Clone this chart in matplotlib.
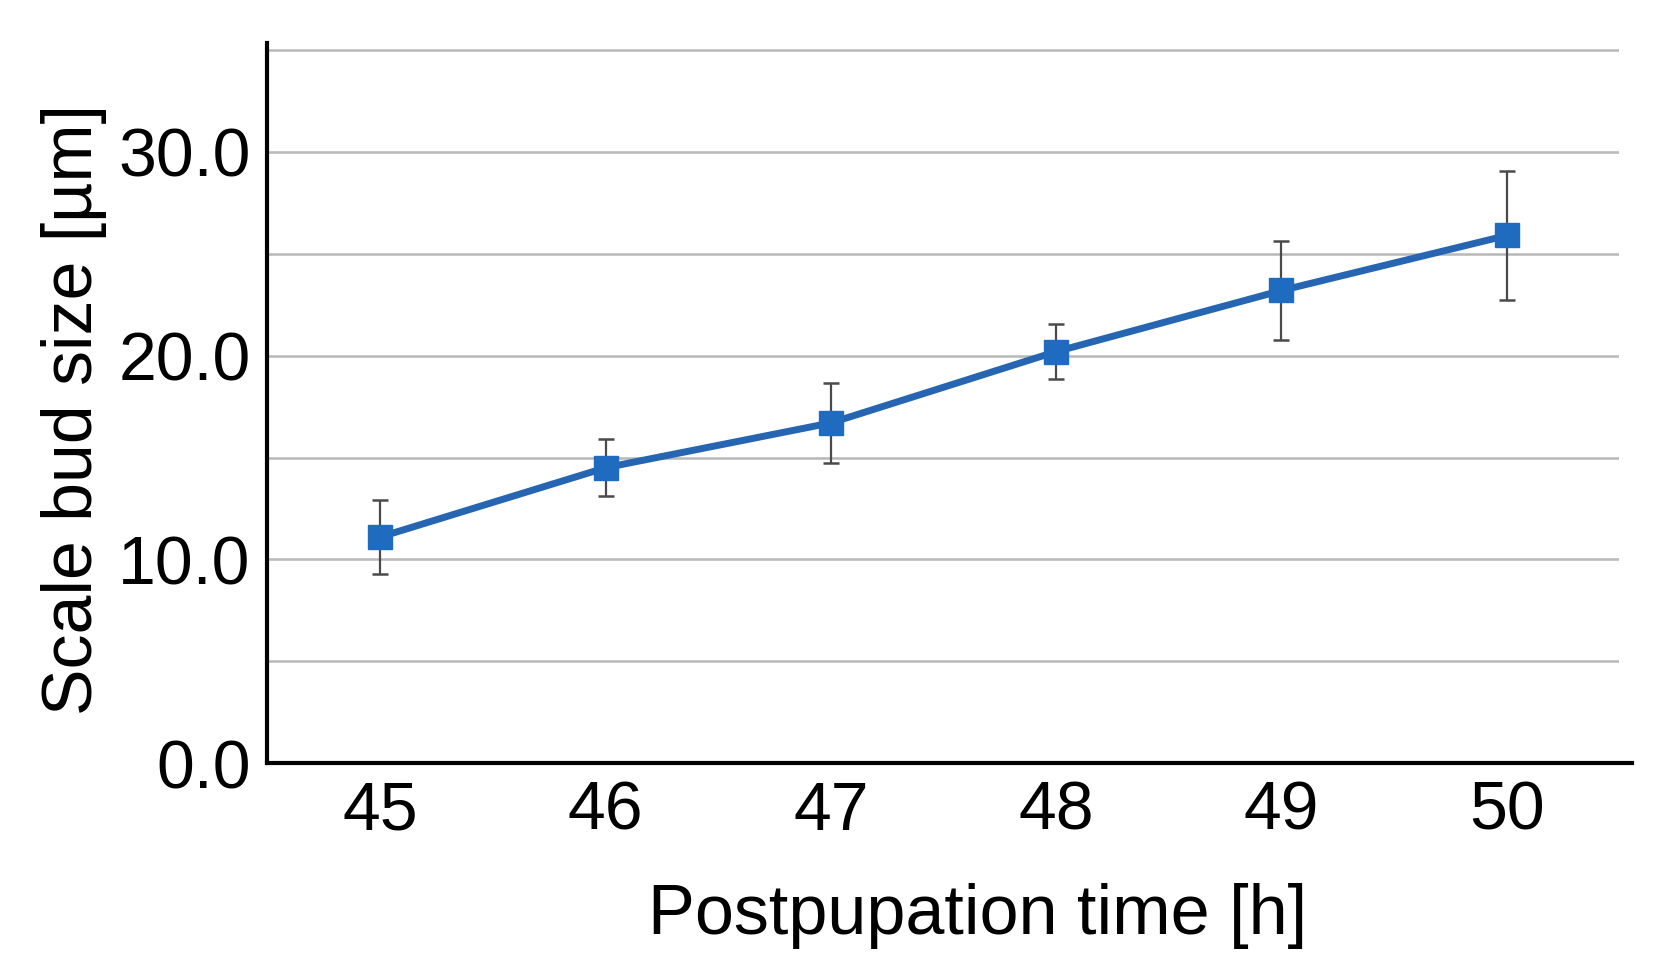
import matplotlib
matplotlib.use("Agg")
import matplotlib.pyplot as plt
from matplotlib.ticker import MultipleLocator, FixedLocator, FixedFormatter

# Data
hours = [45, 46, 47, 48, 49, 50]
bud_size = [11.1, 14.5, 16.7, 20.2, 23.2, 25.9]
bud_err = [1.8, 1.4, 1.95, 1.35, 2.45, 3.15]
y_tick_values = [0, 10, 20, 30]
y_tick_labels = ["0.0", "10.0", "20.0", "30.0"]
x_label = "Postpupation time [h]"
y_label = "Scale bud size [µm]"

plt.rcParams['font.family'] = ['Liberation Sans', 'DejaVu Sans']

fig = plt.figure(figsize=(16.64, 9.80), dpi=100)
ax = fig.add_axes([0.1605, 0.2214, 0.9732 - 0.1605, 0.9561 - 0.2214])

ax.errorbar(hours, bud_size, yerr=bud_err, color='#2565B2', linewidth=5,
            marker='s', markersize=17, markerfacecolor='#1F6BBF',
            markeredgecolor='#1F6BBF', ecolor='#4a4a4a', elinewidth=1.6,
            capsize=5.5, capthick=1.8, zorder=3)

ax.set_xlim(44.497, 50.5)
ax.set_ylim(0, 35.35)
ax.set_xticks(hours)
ax.set_xticklabels([str(h) for h in hours])
ax.yaxis.set_major_locator(FixedLocator(y_tick_values))
ax.yaxis.set_major_formatter(FixedFormatter(y_tick_labels))
ax.yaxis.set_minor_locator(MultipleLocator(5))

ax.grid(axis='y', which='both', color='#b8b8b8', linewidth=1.8, zorder=0)
ax.set_axisbelow(True)

for s in ['top', 'right']:
    ax.spines[s].set_visible(False)
for s in ['left', 'bottom']:
    ax.spines[s].set_linewidth(3)
    ax.spines[s].set_color('black')
ax.spines['bottom'].set_bounds(44.497, 50.556)
ax.spines['bottom'].set_clip_on(False)

ax.tick_params(axis='both', which='both', length=0, labelsize=49)
ax.tick_params(axis='y', pad=12)
ax.tick_params(axis='x', pad=12)

ax.set_xlabel(x_label, fontsize=50.5)
ax.set_ylabel(y_label, fontsize=50.3)
ax.xaxis.set_label_coords(0.5255, -0.167)
ax.xaxis.label.set_va('top')
ax.yaxis.set_label_coords(-0.118, 0.491)

fig.savefig("out.png", dpi=100)
